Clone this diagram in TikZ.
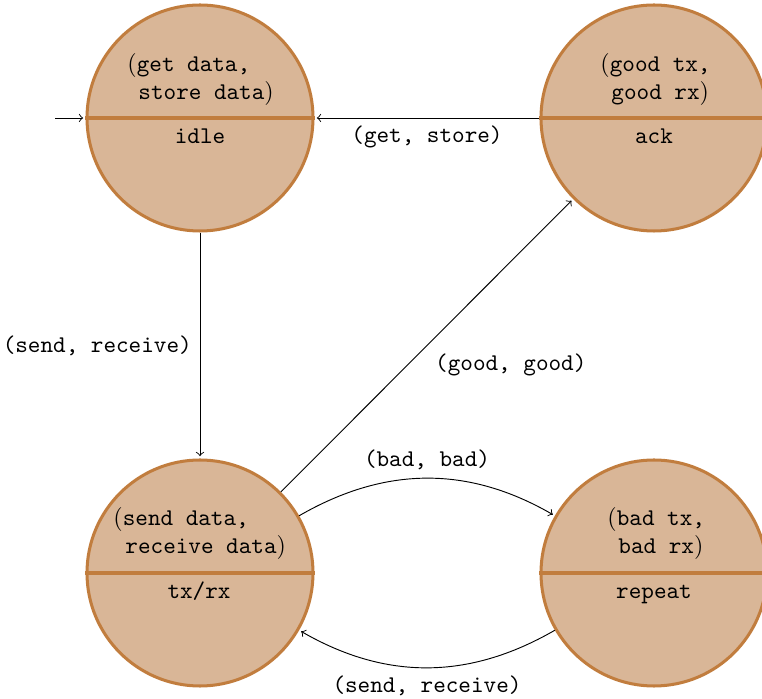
\documentclass[tikz,border=0pt]{standalone}
\definecolor{statefill}{RGB}{217,182,151}
\definecolor{stateedge}{RGB}{193,125,62}
\begin{document}
\begin{tikzpicture}[x=0.4292pt, y=0.4292pt,
  font=\fontsize{10.3}{12.4}\selectfont,
  state/.style={circle, draw=stateedge, fill=statefill, line width=1.3pt,
                minimum size=97pt, inner sep=0pt},
  splitline/.style={draw=stateedge, line width=1.3pt},
  stext/.style={inner sep=0pt, font=\fontsize{10.3}{12.4}\selectfont\ttfamily},
  edge/.style={->, thin, shorten >=1pt},
  elabel/.style={font=\fontsize{10.3}{12.4}\selectfont\ttfamily}
]
\useasboundingbox (0,0) rectangle (762,699);

% states
\node[state] (idle)   at (200,581) {};
\node[state] (ack)    at (654,581) {};
\node[state] (txrx)   at (200,126) {};
\node[state] (repeat) at (654,126) {};

% split lines
\draw[splitline] (idle.west) -- (idle.east);
\draw[splitline] (ack.west) -- (ack.east);
\draw[splitline] (txrx.west) -- (txrx.east);
\draw[splitline] (repeat.west) -- (repeat.east);

% upper and lower texts
\node[stext, anchor=base west] (idleA) at (127,627) {\textrm{(}get data,};
\node[stext, anchor=base west] (idleB) at (138,599) {store data\textrm{)}};
\node[stext, anchor=base]      (idleC) at (200,555) {idle};

\node[stext, anchor=base west] (ackA) at (600,627) {\textrm{(}good tx,};
\node[stext, anchor=base west] (ackB) at (611,599) {good rx\textrm{)}};
\node[stext, anchor=base]      (ackC) at (654,555) {ack};

\node[stext, anchor=base west] (txrxA) at (113,173) {\textrm{(}send data,};
\node[stext, anchor=base west] (txrxB) at (125,145) {receive data\textrm{)}};
\node[stext, anchor=base]      (txrxC) at (199,100) {tx/rx};

\node[stext, anchor=base west] (repA) at (607,173) {\textrm{(}bad tx,};
\node[stext, anchor=base west] (repB) at (618,145) {bad rx\textrm{)}};
\node[stext, anchor=base]      (repC) at (654,100) {repeat};

% transitions
\coordinate (start) at (55,581);
\draw[edge] (start) -- (idle.west);
\draw[edge] (ack.west) -- node[elabel, below] {(get, store)} (idle.east);
\draw[edge] (idle.south) -- node[elabel, left] {(send, receive)} (txrx.north);
\draw[edge] (txrx) -- node[elabel, below right] {(good, good)} (ack);
\draw[edge] (txrx) to[bend left=30] node[elabel, above] {(bad, bad)} (repeat);
\draw[edge] (repeat) to[bend left=30] node[elabel, below] {(send, receive)} (txrx);
\end{tikzpicture}
\end{document}
